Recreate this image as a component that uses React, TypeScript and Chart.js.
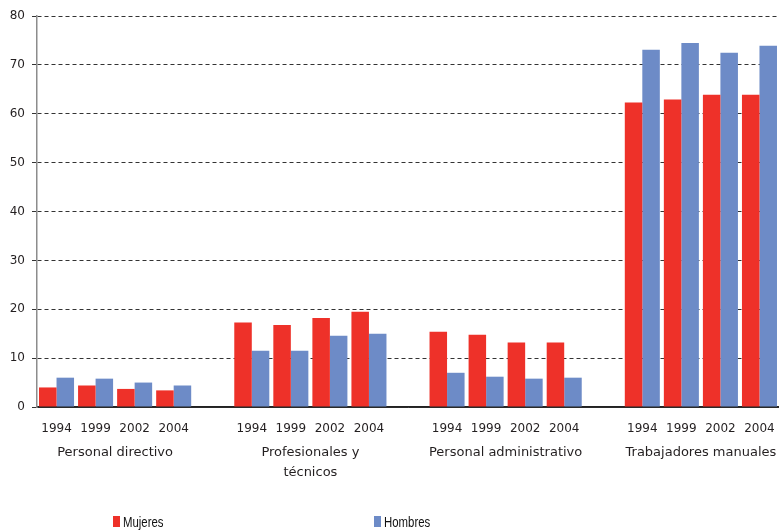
import React, { useEffect, useRef } from 'react';
import { Chart, registerables } from 'chart.js';

Chart.register(...registerables);

const categories: string[][] = [
  ['Personal directivo'],
  ['Profesionales y', 'técnicos'],
  ['Personal administrativo'],
  ['Trabajadores manuales'],
];
const years: string[] = ['1994', '1999', '2002', '2004'];
const mujeresDirectivo = [4.0, 4.4, 3.7, 3.4];
const hombresDirectivo = [6.0, 5.8, 5.0, 4.4];
const mujeresProfesionales = [17.3, 16.8, 18.2, 19.5];
const hombresProfesionales = [11.5, 11.5, 14.6, 15.0];
const mujeresAdministrativo = [15.4, 14.8, 13.2, 13.2];
const hombresAdministrativo = [7.0, 6.2, 5.8, 6.0];
const mujeresManuales = [62.3, 62.9, 63.9, 63.9];
const hombresManuales = [73.1, 74.5, 72.5, 73.9];
const mujeres = [mujeresDirectivo, mujeresProfesionales, mujeresAdministrativo, mujeresManuales];
const hombres = [hombresDirectivo, hombresProfesionales, hombresAdministrativo, hombresManuales];
const seriesNames = ['Mujeres', 'Hombres'];
const yMin = 0;
const yMax = 80;
const yStep = 10;

const RED = '#EE3129';
const BLUE = '#6D8BC7';
const TEXT = '#231F20';
const FONT = '"DejaVu Sans", sans-serif';

export default function App() {
  const ref = useRef<HTMLCanvasElement>(null);

  useEffect(() => {
    document.body.style.margin = '0';
    const labels: string[] = [];
    const m: (number | null)[] = [];
    const h: (number | null)[] = [];
    const centers: number[] = [];
    categories.forEach((_c, g) => {
      const start = labels.length;
      years.forEach((y, i) => {
        labels.push(y);
        m.push(mujeres[g][i]);
        h.push(hombres[g][i]);
      });
      centers.push(start + (years.length - 1) / 2);
      if (g < categories.length - 1) {
        labels.push('');
        m.push(null);
        h.push(null);
      }
    });
    const n = labels.length;

    const legendPlugin = {
      id: 'customLegend',
      afterDraw(chart: any) {
        const ctx = chart.ctx as CanvasRenderingContext2D;
        const xs = [113, 374];
        const squeeze = 0.76;
        ctx.save();
        ctx.font = '15px "Liberation Sans", Arial, sans-serif';
        ctx.textBaseline = 'alphabetic';
        ctx.textAlign = 'left';
        chart.data.datasets.forEach((ds: any, i: number) => {
          ctx.fillStyle = ds.backgroundColor;
          ctx.fillRect(xs[i], 516, 7, 11);
          ctx.save();
          ctx.translate(xs[i] + 10, 527);
          ctx.scale(squeeze, 1);
          ctx.fillStyle = '#111';
          ctx.fillText(ds.label, 0, 0);
          ctx.restore();
        });
        ctx.restore();
      },
    };

    const chart = new Chart(ref.current as HTMLCanvasElement, {
      type: 'bar',
      data: {
        labels,
        datasets: [
          {
            label: seriesNames[0],
            data: m,
            backgroundColor: RED,
            xAxisID: 'x',
            categoryPercentage: 0.897,
            barPercentage: 1,
          },
          {
            label: seriesNames[1],
            data: h,
            backgroundColor: BLUE,
            xAxisID: 'x',
            categoryPercentage: 0.897,
            barPercentage: 1,
          },
        ],
      },
      options: {
        animation: false,
        responsive: false,
        maintainAspectRatio: false,
        layout: { padding: { top: 16, right: 0, bottom: 38, left: 0 } },
        plugins: { legend: { display: false }, tooltip: { enabled: false } },
        scales: {
          x: {
            type: 'category',
            position: 'bottom',
            grid: { display: false },
            border: { display: true, color: '#222', width: 1.5 },
            ticks: {
              font: { family: FONT, size: 12 },
              color: TEXT,
              padding: 7,
              maxRotation: 0,
              autoSkip: false,
            },
            afterFit: (s: any) => {
              s.height = 26;
              s.paddingLeft = 0;
              s.paddingRight = 0;
            },
          },
          x2: {
            type: 'linear',
            axis: 'x',
            position: 'bottom',
            offset: false,
            min: -0.5,
            max: n - 0.5,
            grid: { display: false, offset: false },
            border: { display: false },
            afterBuildTicks: (s: any) => {
              s.ticks = centers.map((v) => ({ value: v }));
            },
            ticks: {
              callback: (v: any) => {
                const idx = centers.indexOf(Number(v));
                return idx >= 0 ? categories[idx] : '';
              },
              font: { family: FONT, size: 13, lineHeight: 1.5 },
              color: TEXT,
              padding: 2,
              autoSkip: false,
              maxRotation: 0,
            },
            afterFit: (s: any) => {
              s.height = 60;
              s.paddingLeft = 0;
              s.paddingRight = 0;
            },
          } as any,
          y: {
            min: yMin,
            max: yMax,
            ticks: {
              stepSize: yStep,
              font: { family: FONT, size: 12 },
              color: TEXT,
              padding: 7,
            },
            grid: {
              color: '#333',
              lineWidth: 1,
              tickLength: 5,
              tickColor: '#333',
              drawTicks: true,
            },
            border: {
              color: '#8c8c8c',
              width: 1.5,
              dash: (ctx: any) => (ctx.tick && ctx.tick.value === 0 ? [] : [4, 3]),
            },
            afterFit: (s: any) => {
              s.width = 37;
            },
          },
        },
      },
      plugins: [legendPlugin],
    } as any);

    return () => chart.destroy();
  }, []);

  return <canvas ref={ref} width={779} height={531} style={{ display: 'block' }} />;
}
